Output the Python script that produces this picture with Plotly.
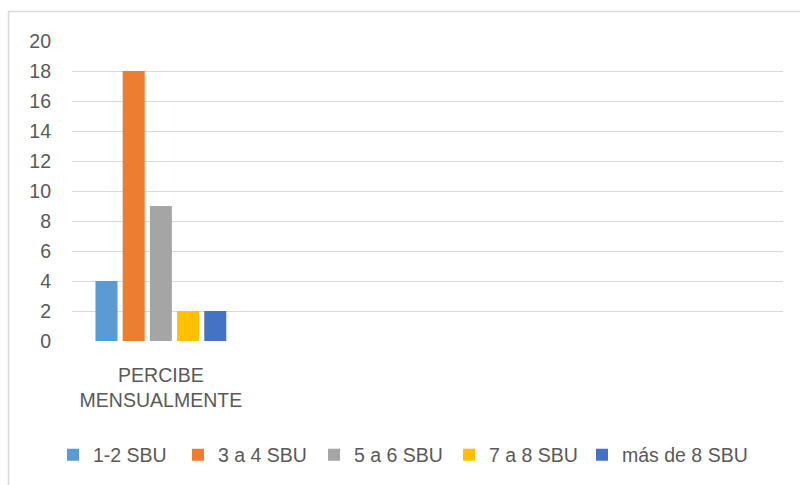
import plotly.graph_objects as go

categories = ["PERCIBE<br>MENSUALMENTE"]
series_names = ["1-2 SBU", "3 a 4 SBU", "5 a 6 SBU", "7 a 8 SBU", "más de 8 SBU"]
series_values = [[4], [18], [9], [2], [2]]
colors = ["#5B9BD5", "#ED7D31", "#A5A5A5", "#FFC000", "#4472C4"]
y_ticks = [0, 2, 4, 6, 8, 10, 12, 14, 16, 18, 20]

# legend entry widths (styling only)
legend_widths = [80, 91, 90, 88, 130]

W, H = 800, 485
L, R, T, B = 72, 17, 41, 144
pw, ph = W - L - R, H - T - B

def px_x(x):
    return (x - L) / pw

def px_y(y):
    return (H - B - y) / ph

fig = go.Figure()
for name, vals, c, lw in zip(series_names, series_values, colors, legend_widths):
    fig.add_trace(go.Bar(x=categories, y=vals, name=name, legendwidth=lw,
                         marker=dict(color=c, line=dict(width=0))))

font_family = "Liberation Sans, Arial, sans-serif"
fig.update_layout(
    width=W, height=H,
    margin=dict(l=L, r=R, t=T, b=B, pad=0, autoexpand=False),
    paper_bgcolor="white", plot_bgcolor="white",
    barmode="group", bargap=0.235, bargroupgap=0.19,
    font=dict(family=font_family, size=19.5, color="#595959"),
    showlegend=True,
    legend=dict(orientation="h", x=px_x(53), xanchor="left", y=px_y(455), yanchor="middle",
                font=dict(family=font_family, size=19.5, color="#595959"),
                bgcolor="rgba(0,0,0,0)", itemclick=False, itemdoubleclick=False),
    xaxis=dict(type="category", range=[-0.5, 3.5], showgrid=False, showline=False, zeroline=False,
               automargin=False,
               ticks="", ticklabelstandoff=20, tickfont=dict(size=19.5, color="#595959")),
    yaxis=dict(range=[0, 20], tickvals=y_ticks, showgrid=True, gridcolor="#d9d9d9", gridwidth=1.3,
               automargin=False,
               zeroline=False, showline=False, ticks="", ticklabelstandoff=20,
               tickfont=dict(size=19.5, color="#595959")),
    shapes=[dict(type="rect", xref="paper", yref="paper",
                 x0=px_x(8.5), x1=px_x(812), y0=px_y(11.5), y1=px_y(497),
                 line=dict(color="#d9d9d9", width=1.5), fillcolor="rgba(0,0,0,0)", layer="below")],
)

fig.write_html("out.html", config={"displayModeBar": False},
               post_script="document.body.style.margin='0';document.body.style.overflow='hidden';")
